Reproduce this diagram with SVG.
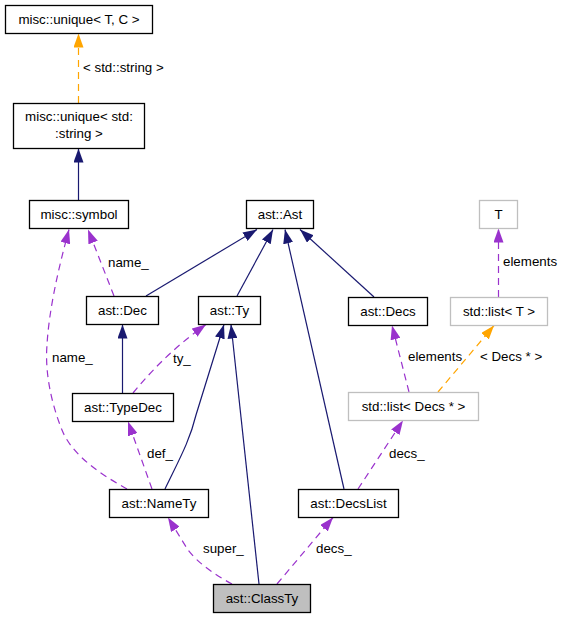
<svg xmlns="http://www.w3.org/2000/svg" width="561" height="619" viewBox="0 0 561 619">
<style>
text{font-family:"Liberation Sans",Arial,sans-serif;font-size:13.33px;fill:#000}
.n rect{fill:#fff;stroke:#000;stroke-width:1.3}
.n.g rect{stroke:#bfbfbf}
.n.cur rect{fill:#bfbfbf}
.n text{text-anchor:middle}
.e path{fill:none;stroke-width:1.2}
.nv{stroke:#191970;marker-end:url(#an)}
.pu{stroke:#9a32cd;stroke-dasharray:7,5;marker-end:url(#ap)}
.or{stroke:#ffa500;stroke-dasharray:7,5;marker-end:url(#ao)}
</style>
<defs>
<marker id="an" viewBox="0 0 14 10" refX="14" refY="5" markerWidth="14" markerHeight="10" markerUnits="userSpaceOnUse" orient="auto"><polygon points="0,0 14,5 0,10" fill="#191970"/></marker>
<marker id="ap" viewBox="0 0 14 10" refX="14" refY="5" markerWidth="14" markerHeight="10" markerUnits="userSpaceOnUse" orient="auto"><polygon points="0,0 14,5 0,10" fill="#9a32cd"/></marker>
<marker id="ao" viewBox="0 0 14 10" refX="14" refY="5" markerWidth="14" markerHeight="10" markerUnits="userSpaceOnUse" orient="auto"><polygon points="0,0 14,5 0,10" fill="#ffa500"/></marker>
</defs>
<rect width="561" height="619" fill="#fff"/>
<g id="edges" class="e">
<path class="or" d="M78.5,103 L78.5,33.5"/>
<path class="nv" d="M78.5,200 L78.5,148.5"/>
<path class="nv" d="M146,296 L257,229.5"/>
<path class="nv" d="M237,296 L273,229.5"/>
<path class="nv" d="M374,297 L300,229.5"/>
<path class="nv" d="M344,489 L285,229.5"/>
<path class="nv" d="M122.5,393 L122.5,324.5"/>
<path class="nv" d="M165,489 C180,458 190,440 196,415 L224,324.5"/>
<path class="nv" d="M259,584 L231,324.5"/>
<path class="pu" d="M232,584 C215,575 198,563 188,550 L168,517.5"/>
<path class="pu" d="M277,584 L333,517.5"/>
<path class="pu" d="M358,489 L403,420.5"/>
<path class="pu" d="M409,392 L392,325.5"/>
<path class="or" d="M438,392 L494,325.5"/>
<path class="pu" d="M498.5,297 L498.5,228.5"/>
<path class="pu" d="M114,296 L88,229.5"/>
<path class="pu" d="M127,489 C100,474 72,455 62,430 C50,400 45,370 47,345 C49,310 58,270 69,229.5"/>
<path class="pu" d="M152,489 L128,421.5"/>
<path class="pu" d="M133,393 C148,375 170,350 206,324.5"/>
</g>
<g id="labels">
<text x="83" y="72">&lt; std::string &gt;</text>
<text x="108" y="267">name_</text>
<text x="52" y="362">name_</text>
<text x="173" y="363">ty_</text>
<text x="147" y="458">def_</text>
<text x="203" y="553">super_</text>
<text x="316" y="553">decs_</text>
<text x="389" y="458">decs_</text>
<text x="408" y="361">elements</text>
<text x="480" y="361">&lt; Decs * &gt;</text>
<text x="503" y="266">elements</text>
</g>
<g id="n_uniqueTC" class="n"><rect x="5.5" y="5.5" width="147" height="28"/><text x="79" y="24">misc::unique&lt; T, C &gt;</text></g>
<g id="n_uniqueStr" class="n"><rect x="13.5" y="103.5" width="131" height="45"/><text x="79" y="121">misc::unique&lt; std:</text><text x="79" y="138">:string &gt;</text></g>
<g id="n_symbol" class="n"><rect x="29.5" y="200.5" width="99" height="28"/><text x="79" y="219">misc::symbol</text></g>
<g id="n_Ast" class="n"><rect x="246.5" y="200.5" width="67" height="28"/><text x="280" y="219">ast::Ast</text></g>
<g id="n_T" class="n g"><rect x="479.5" y="200.5" width="38" height="28"/><text x="498.5" y="219">T</text></g>
<g id="n_Dec" class="n"><rect x="86.5" y="296.5" width="72" height="28"/><text x="122.5" y="315">ast::Dec</text></g>
<g id="n_Ty" class="n"><rect x="198.5" y="296.5" width="62" height="28"/><text x="229.5" y="315">ast::Ty</text></g>
<g id="n_Decs" class="n"><rect x="348.5" y="297.5" width="79" height="28"/><text x="388" y="316">ast::Decs</text></g>
<g id="n_listT" class="n g"><rect x="450.5" y="297.5" width="97" height="28"/><text x="499" y="316">std::list&lt; T &gt;</text></g>
<g id="n_TypeDec" class="n"><rect x="72.5" y="393.5" width="101" height="28"/><text x="123" y="412">ast::TypeDec</text></g>
<g id="n_listDecs" class="n g"><rect x="348.5" y="392.5" width="130" height="28"/><text x="413.5" y="411">std::list&lt; Decs * &gt;</text></g>
<g id="n_NameTy" class="n"><rect x="109.5" y="489.5" width="99" height="28"/><text x="159" y="508">ast::NameTy</text></g>
<g id="n_DecsList" class="n"><rect x="298.5" y="489.5" width="100" height="28"/><text x="348.5" y="508">ast::DecsList</text></g>
<g id="n_ClassTy" class="n cur"><rect x="213.5" y="584.5" width="97" height="28"/><text x="262" y="603">ast::ClassTy</text></g>
</svg>
